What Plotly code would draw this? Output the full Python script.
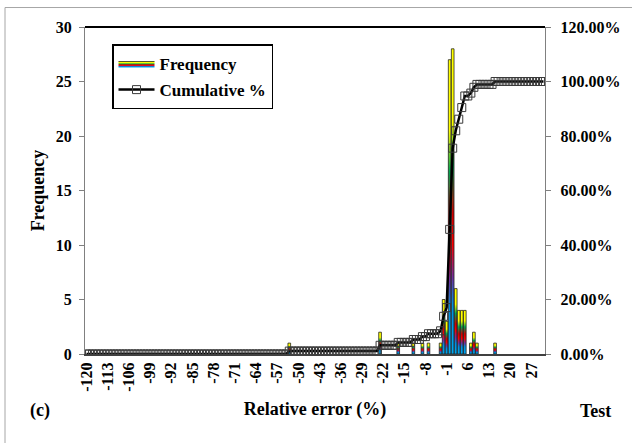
import plotly.graph_objects as go
import numpy as np

# ---- data ----
bins = list(range(-120, 32))                      # relative error categories (%)
freq_bins = [-53, -23, -17, -12, -9, -7, -3, -2, -1, 0, 1, 2, 3, 4, 5, 7, 8, 9, 15]
freq_counts = [1, 2, 1, 1, 1, 1, 1, 5, 3, 27, 28, 6, 4, 4, 4, 1, 2, 1, 1]
x_tick_values = list(range(-120, 28, 7))
left_tick_values = [0, 5, 10, 15, 20, 25, 30]
right_tick_values = [0, 0.2, 0.4, 0.6, 0.8, 1.0, 1.2]
right_tick_labels = ["0.00%", "20.00%", "40.00%", "60.00%", "80.00%", "100.00%", "120.00%"]

frequency = np.zeros(len(bins))
for b, c in zip(freq_bins, freq_counts):
    frequency[bins.index(b)] = c
cumulative = np.cumsum(frequency) / frequency.sum()

# ---- layout geometry (pixels) ----
W, H = 632, 443
L, R, T, B = 85, 545, 26.5, 354


def px(x):
    return (x - L) / (R - L)


def py(y):
    return (B - y) / (B - T)


FONT = "Liberation Serif"
grad = [[0.0, "#00A8F0"], [0.16, "#0090E0"], [0.25, "#7030A0"], [0.36, "#FF0000"],
        [0.46, "#D00000"], [0.62, "#00A850"], [0.76, "#FFFF00"], [1.0, "#FFFF00"]]

fig = go.Figure()
half = 0.44
for i, (b, c) in enumerate(zip(freq_bins, freq_counts)):
    fig.add_trace(go.Scatter(
        x=[b - half, b - half, b + half, b + half, b - half],
        y=[0, c, c, 0, 0],
        mode="lines", fill="toself",
        fillgradient=dict(type="vertical", colorscale=grad),
        line=dict(color="#1a1a1a", width=0.75),
        name="Frequency", legendgroup="freq", showlegend=(i == 0),
        hoverinfo="skip", yaxis="y"))

fig.add_trace(go.Scatter(
    x=bins, y=cumulative, yaxis="y2", mode="lines+markers",
    line=dict(color="black", width=2.5),
    marker=dict(symbol="square-open", size=8, color="#3a3a3a", line=dict(width=1)),
    name="Cumulative %", legendgroup="cum"))

tickfont = dict(family=FONT, size=16, color="black", weight="bold")

fig.update_layout(
    width=W, height=H,
    margin=dict(l=L, r=W - R, t=T, b=H - B, autoexpand=False),
    paper_bgcolor="white", plot_bgcolor="white",
    showlegend=True,
    legend=dict(x=px(112), y=py(44), xanchor="left", yanchor="top",
                bgcolor="white", bordercolor="black", borderwidth=1.5,
                font=dict(family=FONT, size=17, color="black", weight="bold"),
                traceorder="grouped", tracegroupgap=1, itemwidth=36),
    xaxis=dict(range=[-120.5, 31.5], tickmode="array", tickvals=x_tick_values,
               ticktext=[str(v) for v in x_tick_values], tickangle=-90,
               tickfont=tickfont, showline=True, linecolor="#404040", linewidth=2,
               showgrid=False, zeroline=False, ticks="",
               title=dict(text="Relative error (%)", standoff=12,
                          font=dict(family=FONT, size=18, color="black", weight="bold"))),
    yaxis=dict(range=[0, 30], tickmode="array", tickvals=left_tick_values,
               tickfont=tickfont, ticks="outside", ticklen=5, tickcolor="#808080",
               showline=True, linecolor="#808080", linewidth=1, showgrid=False,
               zeroline=False, ticklabelstandoff=4,
               title=dict(text="Frequency", standoff=6,
                          font=dict(family=FONT, size=18, color="black", weight="bold"))),
    yaxis2=dict(range=[0, 1.2], overlaying="y", side="right", tickmode="array",
                tickvals=right_tick_values,
                ticktext=["\u2009\u2009" + t for t in right_tick_labels],
                tickfont=tickfont,
                ticks="outside", ticklen=5, tickcolor="#808080", showline=True,
                linecolor="#808080", linewidth=1, showgrid=False, zeroline=False),
    shapes=[
        dict(type="line", xref="paper", yref="paper", x0=0, x1=1, y0=1, y1=1,
             line=dict(color="black", width=2)),
        dict(type="line", xref="paper", yref="paper", x0=px(5), x1=px(640),
             y0=py(7), y1=py(7), line=dict(color="#a6a6a6", width=1)),
        dict(type="line", xref="paper", yref="paper", x0=px(5), x1=px(5),
             y0=py(7), y1=py(450), line=dict(color="#a6a6a6", width=1)),
    ],
    annotations=[
        dict(text="(c)", x=px(40), y=py(411), xref="paper", yref="paper",
             showarrow=False, xanchor="center", yanchor="middle",
             font=dict(family=FONT, size=18, color="black", weight="bold")),
        dict(text="Test", x=px(595), y=py(411), xref="paper", yref="paper",
             showarrow=False, xanchor="center", yanchor="middle",
             font=dict(family=FONT, size=18, color="black", weight="bold")),
    ],
)

fig.write_html("out.html")
